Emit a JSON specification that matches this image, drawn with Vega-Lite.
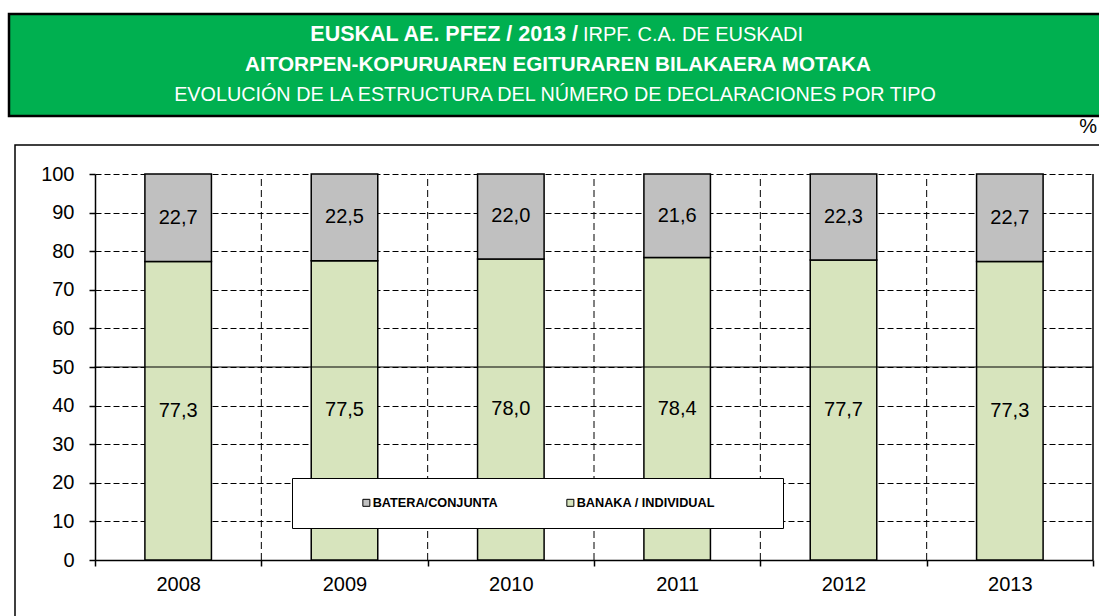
{
  "$schema": "https://vega.github.io/schema/vega-lite/v6.json",
  "padding": {"left": 7, "top": 12, "right": -14, "bottom": -9},
  "background": "white",
  "bounds": "flush",
  "center": true,
  "spacing": 29,
  "config": {
    "font": "Liberation Sans",
    "locale": {"number": {"decimal": ",", "thousands": ".", "grouping": [3], "currency": ["", " €"]}},
    "axis": {"labelFont": "Liberation Sans", "titleFont": "Liberation Sans"},
    "legend": {"labelFont": "Liberation Sans", "titleFont": "Liberation Sans"}
  },
  "datasets": {
    "main": [
      {"year": "2008", "type": "BANAKA / INDIVIDUAL", "value": 77.3},
      {"year": "2008", "type": "BATERA/CONJUNTA", "value": 22.7},
      {"year": "2009", "type": "BANAKA / INDIVIDUAL", "value": 77.5},
      {"year": "2009", "type": "BATERA/CONJUNTA", "value": 22.5},
      {"year": "2010", "type": "BANAKA / INDIVIDUAL", "value": 78.0},
      {"year": "2010", "type": "BATERA/CONJUNTA", "value": 22.0},
      {"year": "2011", "type": "BANAKA / INDIVIDUAL", "value": 78.4},
      {"year": "2011", "type": "BATERA/CONJUNTA", "value": 21.6},
      {"year": "2012", "type": "BANAKA / INDIVIDUAL", "value": 77.7},
      {"year": "2012", "type": "BATERA/CONJUNTA", "value": 22.3},
      {"year": "2013", "type": "BANAKA / INDIVIDUAL", "value": 77.3},
      {"year": "2013", "type": "BATERA/CONJUNTA", "value": 22.7}
    ],
    "banner": [
      {"line": "1", "part": "b", "text": "EUSKAL AE. PFEZ / 2013 /"},
      {"line": "1", "part": "n", "text": "IRPF. C.A. DE EUSKADI"},
      {"line": "2", "part": "c", "text": "AITORPEN-KOPURUAREN EGITURAREN BILAKAERA MOTAKA"},
      {"line": "3", "part": "d", "text": "EVOLUCIÓN DE LA ESTRUCTURA DEL NÚMERO DE DECLARACIONES POR TIPO"}
    ]
  },
  "vconcat": [
    {
      "width": 1102,
      "height": 102,
      "view": {"fill": "#00B050", "stroke": "black", "strokeWidth": 2.5},
      "data": {"name": "banner"},
      "encoding": {
        "y": {"field": "line", "type": "ordinal", "scale": {"type": "point", "range": [21, 81], "padding": 0}, "axis": null},
        "text": {"field": "text", "type": "nominal"}
      },
      "layer": [
        {"transform": [{"filter": "datum.part === 'b'"}], "mark": {"type": "text", "font": "Liberation Sans", "fontSize": 21.5, "fontWeight": "bold", "color": "white", "align": "right", "baseline": "middle", "dx": 18}},
        {"transform": [{"filter": "datum.part === 'n'"}], "mark": {"type": "text", "font": "Liberation Sans", "fontSize": 20, "fontWeight": "normal", "color": "white", "align": "left", "baseline": "middle", "dx": 23}},
        {"transform": [{"filter": "datum.part === 'c'"}], "mark": {"type": "text", "font": "Liberation Sans", "fontSize": 20.7, "fontWeight": "bold", "color": "white", "align": "center", "baseline": "middle", "dx": -2}},
        {"transform": [{"filter": "datum.part === 'd'"}], "mark": {"type": "text", "font": "Liberation Sans", "fontSize": 19.8, "fontWeight": "normal", "color": "white", "align": "center", "baseline": "middle", "dx": -5}}
      ]
    },
    {
      "width": 1090,
      "height": 480,
      "view": {"stroke": "black", "strokeWidth": 1.5, "fill": "white"},
      "title": {"text": "%", "anchor": "end", "frame": "group", "orient": "top", "offset": 8, "dx": -8, "fontSize": 20, "fontWeight": "normal", "font": "Liberation Sans", "color": "black"},
      "resolve": {"scale": {"y": "independent"}},
      "layer": [
        {
          "data": {"name": "main"},
          "mark": {"type": "bar", "width": {"band": 0.4}, "stroke": "black", "strokeWidth": 1.5},
          "encoding": {
            "x": {
              "field": "year", "type": "ordinal",
              "scale": {"type": "band", "range": [80, 1078], "paddingInner": 0, "paddingOuter": 0},
              "axis": {"orient": "bottom", "offset": -65, "title": null, "labelAngle": 0, "labelFontSize": 20, "labelColor": "black", "labelPadding": 8, "tickBand": "extent", "ticks": true, "tickSize": 6, "tickColor": "black", "tickWidth": 1.5, "domain": true, "domainColor": "black", "domainWidth": 1.5, "grid": false}
            },
            "y": {
              "field": "value", "type": "quantitative", "stack": "zero",
              "scale": {"domain": [0, 100], "range": [415, 29], "nice": false},
              "axis": {"orient": "left", "offset": -80, "title": null, "values": [0, 10, 20, 30, 40, 50, 60, 70, 80, 90, 100], "labelFontSize": 20, "labelColor": "black", "labelPadding": 15, "ticks": true, "tickSize": 6, "tickColor": "black", "tickWidth": 1.5, "domain": true, "domainColor": "black", "domainWidth": 1.5, "grid": true, "gridColor": "black", "gridDash": [6, 3], "gridWidth": 1, "gridOpacity": 1}
            },
            "color": {
              "field": "type", "type": "nominal",
              "scale": {"domain": ["BATERA/CONJUNTA", "BANAKA / INDIVIDUAL"], "range": ["#C0C0C0", "#D7E4BD"]},
              "legend": {"orient": "none", "legendX": 283, "legendY": 464, "direction": "horizontal", "title": "\u2800", "titleOrient": "left", "titlePadding": 41, "titleFontSize": 12, "padding": 18, "fillColor": "white", "strokeColor": "black", "symbolType": "square", "symbolSize": 49, "symbolStrokeColor": "black", "symbolStrokeWidth": 1, "symbolOpacity": 1, "labelFontSize": 12.7, "labelFontWeight": "bold", "labelColor": "black", "labelOffset": 0, "columnPadding": 66, "labelLimit": 500, "labelExpr": "datum.value === 'BANAKA / INDIVIDUAL' ? datum.label + '\u2800\u2800\u2800\u2800\u2800' : datum.label"}
            },
            "order": {"field": "type", "type": "nominal", "sort": "ascending"}
          }
        },
        {
          "data": {"name": "main"},
          "transform": [{"filter": "datum.type === 'BANAKA / INDIVIDUAL' && datum.year !== '2008'"}],
          "mark": {"type": "rule", "color": "black", "strokeWidth": 1, "strokeDash": [7, 4]},
          "encoding": {
            "x": {"field": "year", "type": "ordinal", "bandPosition": 0},
            "y": {"datum": 0, "type": "quantitative", "scale": {"domain": [0, 100], "range": [415, 29], "nice": false}, "axis": null},
            "y2": {"datum": 100}
          }
        },
        {
          "data": {"name": "main"},
          "transform": [{"filter": "datum.type === 'BANAKA / INDIVIDUAL'"}],
          "mark": {"type": "tick", "color": "black", "thickness": 1.2, "size": 167, "opacity": 1},
          "encoding": {
            "x": {"field": "year", "type": "ordinal"},
            "y": {"datum": 50, "type": "quantitative", "scale": {"domain": [0, 100], "range": [415, 29], "nice": false}, "axis": null}
          }
        },
        {
          "data": {"name": "main"},
          "transform": [{"filter": "datum.type === 'BANAKA / INDIVIDUAL' && datum.year === '2013'"}],
          "mark": {"type": "rule", "color": "black", "strokeWidth": 1.5},
          "encoding": {
            "x": {"field": "year", "type": "ordinal", "bandPosition": 1},
            "y": {"datum": 0, "type": "quantitative", "scale": {"domain": [0, 100], "range": [415, 29], "nice": false}, "axis": null},
            "y2": {"datum": 100}
          }
        },
        {
          "data": {"name": "main"},
          "transform": [{"filter": "datum.type === 'BANAKA / INDIVIDUAL'"}],
          "mark": {"type": "text", "fontSize": 20, "font": "Liberation Sans", "color": "black", "baseline": "middle", "align": "center"},
          "encoding": {
            "x": {"field": "year", "type": "ordinal"},
            "y": {"field": "value", "type": "quantitative", "scale": {"domain": [0, 200], "range": [415, 29], "nice": false}, "axis": null},
            "text": {"field": "value", "type": "quantitative", "format": ".1f"}
          }
        },
        {
          "data": {"name": "main"},
          "transform": [{"filter": "datum.type === 'BATERA/CONJUNTA'"}],
          "mark": {"type": "text", "fontSize": 20, "font": "Liberation Sans", "color": "black", "baseline": "middle", "align": "center"},
          "encoding": {
            "x": {"field": "year", "type": "ordinal"},
            "y": {"field": "value", "type": "quantitative", "scale": {"domain": [0, 200], "range": [29, 415], "nice": false}, "axis": null},
            "text": {"field": "value", "type": "quantitative", "format": ".1f"}
          }
        }
      ]
    }
  ]
}
